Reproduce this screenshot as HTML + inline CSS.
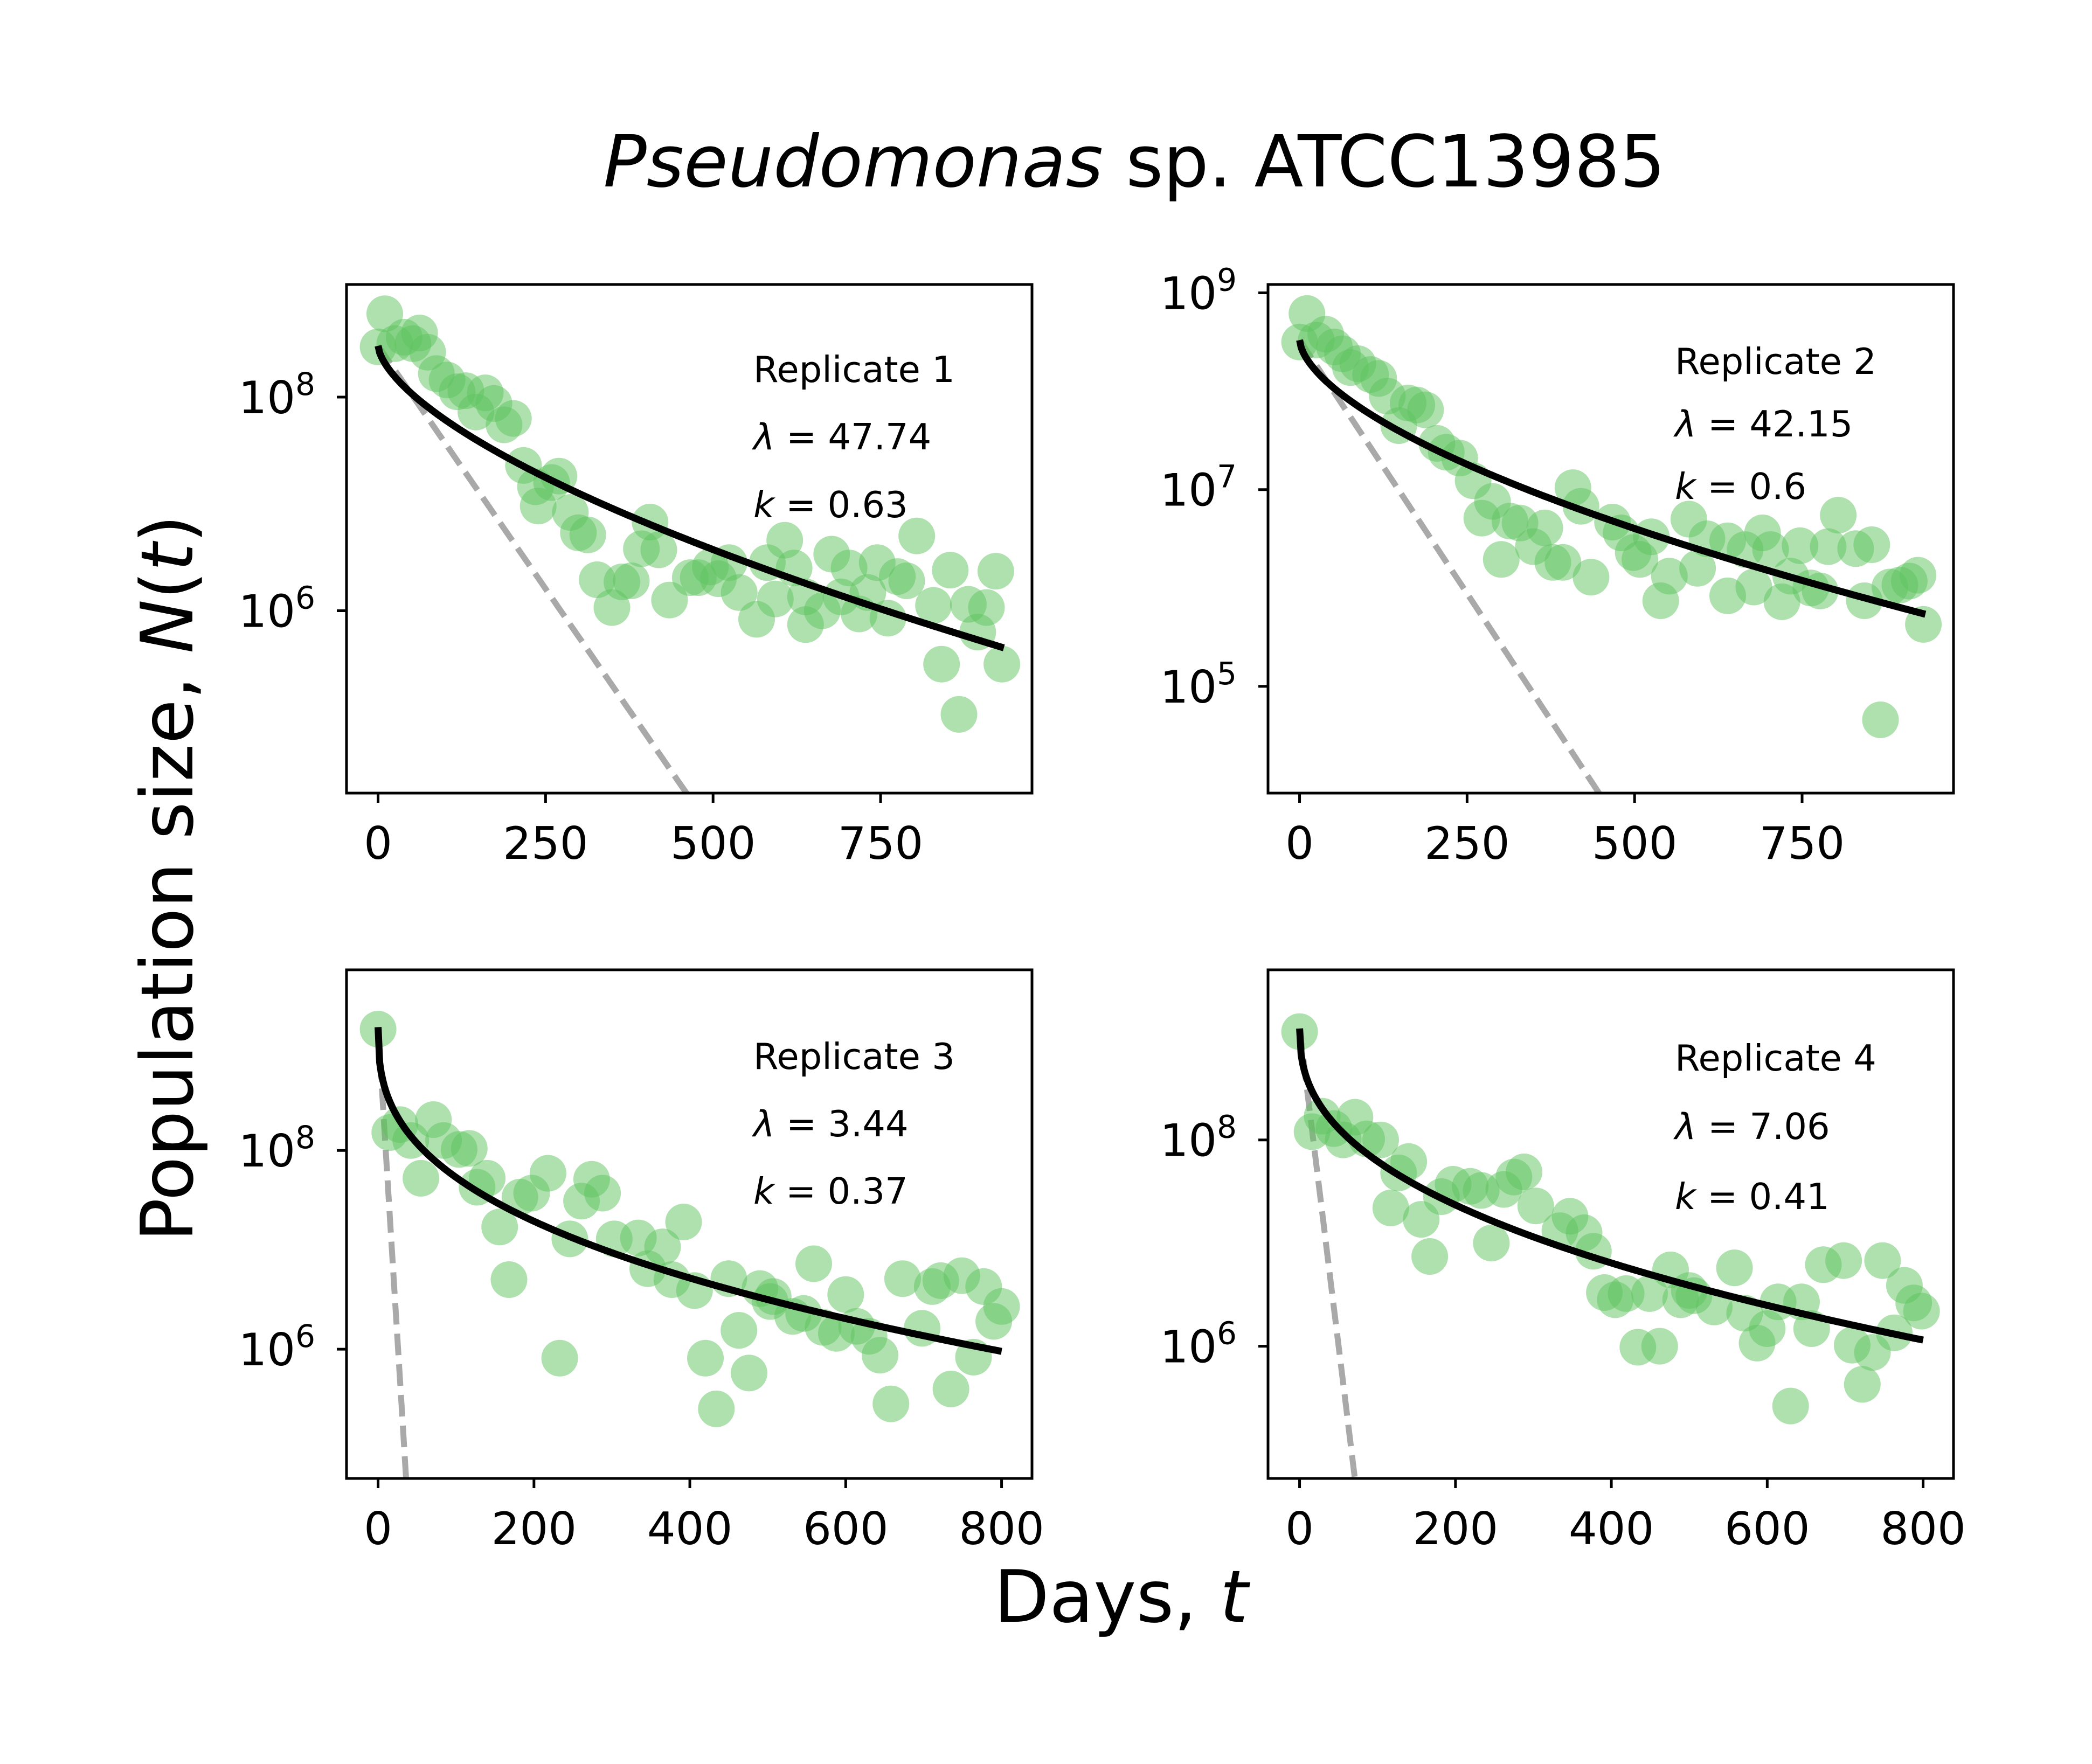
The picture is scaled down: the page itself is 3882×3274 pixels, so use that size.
<!DOCTYPE html>
<html><head><meta charset="utf-8"><style>
html,body{margin:0;padding:0;background:#fff;overflow:hidden;width:3882px;height:3274px}
svg{display:block;position:absolute;left:0;top:0}
text{font-family:"DejaVu Sans","Liberation Sans",sans-serif;fill:#000}
</style></head><body>
<svg id="fig" xmlns="http://www.w3.org/2000/svg" width="3882" height="3274" viewBox="0 0 3882 3274">
<rect x="0" y="0" width="3882" height="3274" fill="#fff"/>
<text x="2105" y="346" font-size="133" text-anchor="middle"><tspan font-style="italic">Pseudomonas</tspan> sp. ATCC13985</text>
<text x="2080" y="3010" font-size="134" text-anchor="middle">Days, <tspan font-style="italic">t</tspan></text>
<text x="0" y="0" font-size="134" text-anchor="middle" transform="translate(357,1630) rotate(-90)">Population size, <tspan font-style="italic">N</tspan>(<tspan font-style="italic">t</tspan>)</text>
</svg>
<script>
// ---- data (days, log10 population) ----
const p1Days = [0,10,25,39,62,52,74,87,103,118,131,160,146,173,202,188,217,235,270,259,239,287,299,313,327,349,364,378,393,406,419,435,466,478,496,508,524,539,565,581,593,607,621,638,638,663,677,691,703,718,731,745,761,775,789,804,829,841,854,867,881,895,908,922,931];
const p1Log10N = [8.47,8.78,8.50,8.56,8.60,8.50,8.42,8.22,8.16,8.05,8.06,8.04,7.86,7.94,7.80,7.74,7.36,7.16,7.26,7.20,6.98,6.92,6.73,6.71,6.29,6.03,6.27,6.28,6.58,6.83,6.57,6.10,6.31,6.31,6.41,6.30,6.45,6.17,5.92,6.45,6.11,6.66,6.40,6.13,5.87,6.00,6.53,6.13,6.40,5.97,6.17,6.45,5.93,6.32,6.28,6.70,6.05,5.50,6.38,5.03,6.06,5.80,6.03,6.37,5.50];
const p2Days = [11,0,39,25,52,64,87,76,106,118,131,162,175,188,148,205,219,239,259,288,272,314,329,366,349,301,378,393,435,408,420,467,480,498,508,525,539,552,581,594,608,639,639,665,678,691,703,720,733,747,763,777,789,804,830,843,854,867,881,896,910,923,931];
const p2Log10N = [8.79,8.50,8.58,8.52,8.45,8.38,8.28,8.24,8.17,8.13,7.95,7.88,7.86,7.81,7.65,7.47,7.38,7.32,7.09,6.88,6.71,6.68,6.66,6.61,6.42,6.29,6.26,6.26,6.11,7.02,6.83,6.67,6.56,6.36,6.29,6.52,5.87,6.12,6.70,6.20,6.50,5.92,6.48,6.39,6.01,6.56,6.39,5.86,6.12,6.43,6.00,5.97,6.42,6.74,6.40,5.87,6.44,4.66,6.01,6.03,6.07,6.13,5.63];
const p3Days = [0,15,28,42,71,55,84,104,117,140,127,156,168,182,197,218,233,246,261,274,288,303,334,346,365,377,392,406,420,434,450,463,476,490,507,503,532,546,559,571,588,600,614,630,644,658,673,698,711,722,735,749,764,777,790,800];
const p3Log10N = [9.22,8.18,8.26,8.10,8.31,7.72,8.10,8.01,8.02,7.72,7.63,7.23,6.70,7.53,7.57,7.77,5.91,7.11,7.49,7.71,7.57,7.11,7.12,6.81,7.03,6.70,7.28,6.59,5.91,5.40,6.71,6.19,5.76,6.61,6.53,6.48,6.33,6.36,6.86,6.22,6.16,6.55,6.23,6.13,5.94,5.45,6.71,6.21,6.63,6.69,5.60,6.74,5.92,6.63,6.28,6.43];
const p4Days = [0,16,29,44,56,71,86,104,127,140,117,156,167,182,197,219,233,246,262,275,288,303,334,347,365,377,391,405,419,434,449,462,476,489,506,500,532,558,571,587,600,614,644,657,672,698,630,709,722,735,748,763,776,788,798];
const p4Log10N = [9.05,8.08,8.23,8.11,8.00,8.22,8.01,8.00,7.68,7.79,7.34,7.23,6.87,7.45,7.57,7.55,7.51,7.00,7.52,7.64,7.69,7.36,7.12,7.26,7.10,6.92,6.52,6.45,6.51,5.99,6.51,6.00,6.74,6.45,6.49,6.54,6.38,6.76,6.32,6.03,6.17,6.43,6.43,6.17,6.79,6.83,5.42,6.01,5.63,5.94,6.83,6.13,6.59,6.42,6.34];
// fitted model parameters
const lambdas = [47.74, 42.15, 3.44, 7.06];
const shapeK = [0.63, 0.6, 0.37, 0.41];
const startLog10N = [8.48, 8.52, 9.24, 9.08];
const endDay = [934, 934, 800, 800];
const xTicksTop = [0, 250, 500, 750];
const xTicksBottom = [0, 200, 400, 600, 800];
const yTicks1 = [6, 8];
const yTicks2 = [5, 7, 9];
const yTicks3 = [6, 8];
const yTicks4 = [6, 8];
const replicateNames = ["Replicate 1", "Replicate 2", "Replicate 3", "Replicate 4"];

const NS = "http://www.w3.org/2000/svg";
const svg = document.getElementById("fig");
function mk(tag, attrs, parent) {
  const e = document.createElementNS(NS, tag);
  for (const k in attrs) e.setAttribute(k, attrs[k]);
  (parent || svg).appendChild(e);
  return e;
}
const W = 1272, H = 944;
const panels = [
  {x:643, y:528, xmin:-47.1, xmax:976, ymin:4.293, ymax:9.054, days:p1Days, vals:p1Log10N, xt:xTicksTop, yt:yTicks1, ay:[709,834,960], ax:1398},
  {x:2353, y:528, xmin:-47.1, xmax:976, ymin:3.915, ymax:9.085, days:p2Days, vals:p2Log10N, xt:xTicksTop, yt:yTicks2, ay:[694,810,926], ax:3108},
  {x:643, y:1800, xmin:-40.5, xmax:839, ymin:4.700, ymax:9.817, days:p3Days, vals:p3Log10N, xt:xTicksBottom, yt:yTicks3, ay:[1984,2109,2234], ax:1398},
  {x:2353, y:1800, xmin:-40.5, xmax:839, ymin:4.718, ymax:9.649, days:p4Days, vals:p4Log10N, xt:xTicksBottom, yt:yTicks4, ay:[1987,2114,2244], ax:3108}
];
const defs = mk("defs", {});
panels.forEach((p, i) => {
  const sx = t => p.x + (t - p.xmin) / (p.xmax - p.xmin) * W;
  const sy = v => p.y + H - (v - p.ymin) / (p.ymax - p.ymin) * H;
  const cp = mk("clipPath", {id: "clip" + i}, defs);
  mk("rect", {x:p.x, y:p.y, width:W, height:H}, cp);
  const g = mk("g", {});
  
  
  const plot = mk("g", {"clip-path": "url(#clip" + i + ")"}, g);
  let d1 = "";
  for (let s = 0; s <= 400; s++) {
    const t = endDay[i] * s / 400;
    const v = startLog10N[i] - (t / lambdas[i]) / Math.LN10;
    d1 += (s ? "L" : "M") + sx(t).toFixed(1) + "," + sy(v).toFixed(1);
  }
  const dash = mk("path", {d:d1, fill:"none", stroke:"#a9a9a9", "stroke-width":11, "stroke-dasharray":"40 17"}, plot);
  
  
  const sg = mk("g", {}, plot);
  
  
  p.days.forEach((t, j) => {
    const c = mk("circle", {cx:sx(t).toFixed(1), cy:sy(p.vals[j]).toFixed(1), r:34, fill:"rgb(94,196,94)", "fill-opacity":0.5}, sg);
    
    
  });
  let d2 = "";
  for (let s = 0; s <= 400; s++) {
    const t = endDay[i] * s / 400;
    const v = startLog10N[i] - Math.pow(t / lambdas[i], shapeK[i]) / Math.LN10;
    d2 += (s ? "L" : "M") + sx(t).toFixed(1) + "," + sy(v).toFixed(1);
  }
  const fit = mk("path", {d:d2, fill:"none", stroke:"#000", "stroke-width":13}, plot);
  
  
  const fr = mk("rect", {x:p.x, y:p.y, width:W, height:H, fill:"none", stroke:"#000", "stroke-width":5}, g);
  
  
  p.xt.forEach(t => {
    const X = sx(t);
    const tk = mk("line", {x1:X, x2:X, y1:p.y + H, y2:p.y + H + 18, stroke:"#000", "stroke-width":5}, g);
    
    
    const lb = mk("text", {x:X, y:p.y + H + 122, "font-size":83, "text-anchor":"middle"}, g);
    lb.textContent = String(t);
    
    
  });
  p.yt.forEach(v => {
    const Y = sy(v);
    const tk = mk("line", {x1:p.x - 18, x2:p.x, y1:Y, y2:Y, stroke:"#000", "stroke-width":5}, g);
    
    
    const lb = mk("text", {x:p.x - 58, y:Y + 30, "font-size":83, "text-anchor":"end"}, g);
    
    
    const b = mk("tspan", {}, lb); b.textContent = "10";
    const e = mk("tspan", {"font-size":58, dy:-34}, lb); e.textContent = String(v);
  });
  const a1 = mk("text", {x:p.ax, y:p.ay[0], "font-size":67}, g);
  a1.textContent = replicateNames[i];
  
  
  const a2 = mk("text", {x:p.ax, y:p.ay[1], "font-size":67}, g);
  
  
  const l1 = mk("tspan", {"font-style":"italic"}, a2); l1.textContent = "λ";
  const l2 = mk("tspan", {}, a2); l2.textContent = " = " + lambdas[i];
  const a3 = mk("text", {x:p.ax, y:p.ay[2], "font-size":67}, g);
  
  
  const k1 = mk("tspan", {"font-style":"italic"}, a3); k1.textContent = "k";
  const k2 = mk("tspan", {}, a3); k2.textContent = " = " + shapeK[i];
});
</script>
</body></html>
